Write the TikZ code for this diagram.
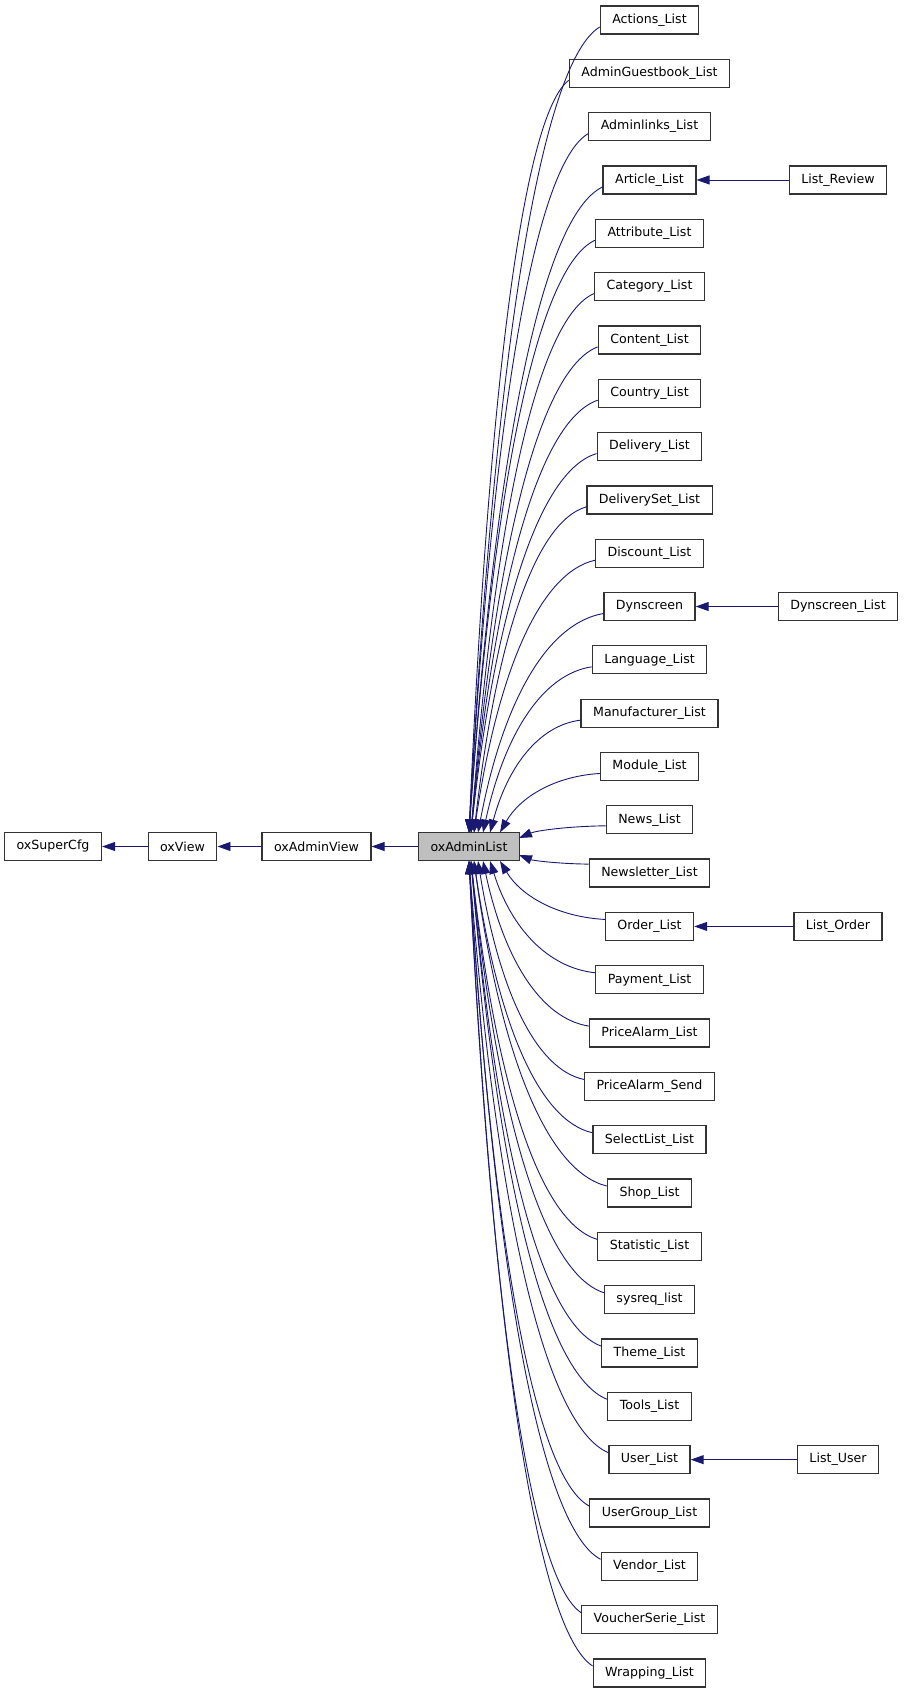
\documentclass[tikz,border=0pt]{standalone}
\usepackage{fontspec}
\setmainfont{DejaVu Sans}
\usetikzlibrary{arrows.meta, calc}
\definecolor{edgeblue}{HTML}{191970}

\tikzset{
  cls/.style={draw=black!80, line width=1.3pt, fill=white, minimum height=28pt,
              inner xsep=12pt, inner ysep=0pt, font=\fontsize{12.6}{15}\selectfont},
  cur/.style={cls, fill=black!25},
  inherit/.style={draw=edgeblue, line width=0.9pt, -{Triangle[length=13pt, width=9pt]}},
}

\begin{document}
\begin{tikzpicture}[x=1pt, y=1pt]
  \useasboundingbox (0,0) rectangle (904,-1693);

  % base classes
  \node[cls] (superCfg) at (53,-846.5) {oxSuperCfg};
  \node[cls] (view) at (182.5,-846.5) {oxView};
  \node[cls] (adminView) at (316.5,-846.5) {oxAdminView};
  \node[cur] (adminList) at (469,-846.5) {oxAdminList};

  \draw[inherit] (view) -- (superCfg);
  \draw[inherit] (adminView) -- (view);
  \draw[inherit] (adminList) -- (adminView);

  % derived list views
  \foreach \nm/\lbl [count=\i from 0] in {
      actions/Actions\_List, guestbook/AdminGuestbook\_List, adminlinks/Adminlinks\_List,
      article/Article\_List, attribute/Attribute\_List, category/Category\_List,
      content/Content\_List, country/Country\_List, delivery/Delivery\_List,
      deliveryset/DeliverySet\_List, discount/Discount\_List, dynscreen/Dynscreen,
      language/Language\_List, manufacturer/Manufacturer\_List, module/Module\_List,
      news/News\_List, newsletter/Newsletter\_List, order/Order\_List,
      payment/Payment\_List, alarmlist/PriceAlarm\_List, alarmsend/PriceAlarm\_Send,
      selectlist/SelectList\_List, shop/Shop\_List, statistic/Statistic\_List,
      sysreq/sysreq\_list, theme/Theme\_List, tools/Tools\_List, user/User\_List,
      usergroup/UserGroup\_List, vendor/Vendor\_List, voucherserie/VoucherSerie\_List,
      wrapping/Wrapping\_List} {
    \node[cls] (\nm) at (649.5,{-(20+53.32*\i)}) {\lbl};
  }

  % edges into oxAdminList
  \foreach \nm/\ex/\ey/\dy in {
      actions/469/832.5/-7, guestbook/469/832.5/-7, adminlinks/469/832.5/-7,
      article/469/832.5/-7, attribute/469/832.5/-7, category/471/832.5/-7,
      content/471/832.5/-7, country/471/832.5/-7, delivery/471/832.5/-7,
      deliveryset/474/832.5/-7, discount/474/832.5/-7, dynscreen/478/832.5/-7,
      language/483/832.5/-7, manufacturer/490/832.5/-7, module/500/832.5/-7,
      news/519/838/-6, newsletter/519/855/9,
      order/500/861/7, payment/490/861/7, alarmlist/483/861/7, alarmsend/478/861/7,
      selectlist/474/861/7, shop/474/861/7, statistic/471/861/7, sysreq/471/861/7,
      theme/471/861/7, tools/471/861/7, user/469/861/7, usergroup/469/861/7,
      vendor/469/861/7, voucherserie/469/861/7, wrapping/469/861/7} {
    \draw[inherit] let \p1=($(\nm.west)+(0,\dy)$), \p2=(\ex,-\ey) in
      (\p1) .. controls +({-0.45*(\x1-\x2)},{0.045*(\y2-\y1)})
            and +({0.2*(\x1-\x2)},{0.6*(\y1-\y2)}) .. (\p2);
  }

  % second level
  \node[cls] (review) at (838,{-(20+53.32*3)}) {List\_Review};
  \node[cls] (dynlist) at (838,{-(20+53.32*11)}) {Dynscreen\_List};
  \node[cls] (listorder) at (838,{-(20+53.32*17)}) {List\_Order};
  \node[cls] (listuser) at (838,{-(20+53.32*27)}) {List\_User};

  \draw[inherit] (review) -- (article);
  \draw[inherit] (dynlist) -- (dynscreen);
  \draw[inherit] (listorder) -- (order);
  \draw[inherit] (listuser) -- (user);
\end{tikzpicture}
\end{document}
